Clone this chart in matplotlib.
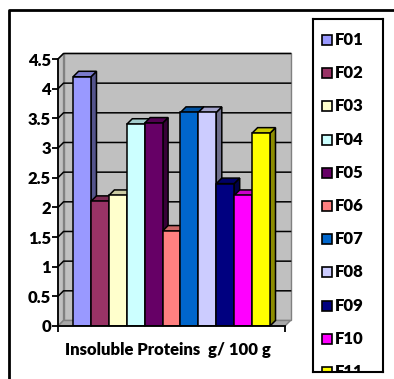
import matplotlib
matplotlib.use('Agg')
import matplotlib.pyplot as plt
from matplotlib.patches import Polygon, Rectangle
from matplotlib.lines import Line2D
import numpy as np

# data
names = ['F01', 'F02', 'F03', 'F04', 'F05', 'F06', 'F07', 'F08', 'F09', 'F10', 'F11']
values = [4.2, 2.1, 2.2, 3.4, 3.42, 1.6, 3.6, 3.6, 2.4, 2.2, 3.25]
colors = ['#9999FF', '#993366', '#FFFFCC', '#CCFFFF', '#660066', '#FF8080',
          '#0066CC', '#CCCCFF', '#000080', '#FF00FF', '#FFFF00']
yticks = [0, 0.5, 1, 1.5, 2, 2.5, 3, 3.5, 4, 4.5]
ytick_labels = ['0', '0.5', '1', '1.5', '2', '2.5', '3', '3.5', '4', '4.5']
xlabel = 'Insoluble Proteins  g/ 100 g'

plt.rcParams['font.family'] = ['Lato', 'DejaVu Sans']
plt.rcParams['font.weight'] = 'bold'

W, H = 394, 379
fig = plt.figure(figsize=(W / 100, H / 100), dpi=100)


def box(x0, y0, x1, y1):
    # pixel box (top-left origin) -> figure fraction rect
    return [x0 / W, 1 - y1 / H, (x1 - x0) / W, (y1 - y0) / H]


# outer frame (only top and left visible in the reference)
fig.add_artist(Line2D([9 / W, 9 / W, 1.0], [0.0, 1 - 10 / H, 1 - 10 / H],
                      transform=fig.transFigure, color='black', lw=2))

ax = fig.add_axes(box(58, 59, 285, 326))
xl, xr = -0.84, 11.84
ymax = 4.5
ax.set_xlim(xl, xr)
ax.set_ylim(0, ymax)
ax.patch.set_visible(False)
dx, dy = 0.31, 0.093  # depth offset

wall = '#C0C0C0'
ax.add_patch(Polygon([(xl + dx, dy), (xr + dx, dy), (xr + dx, ymax + dy), (xl + dx, ymax + dy)],
                     closed=True, fc=wall, ec='#808080', lw=1, clip_on=False, zorder=0))
ax.add_patch(Polygon([(xl, 0), (xl + dx, dy), (xl + dx, ymax + dy), (xl, ymax)],
                     closed=True, fc=wall, ec='#808080', lw=1, clip_on=False, zorder=0))
ax.add_patch(Polygon([(xl, 0), (xr, 0), (xr + dx, dy), (xl + dx, dy)],
                     closed=True, fc='#A8A8A8', ec='#808080', lw=1, clip_on=False, zorder=0))
for t in yticks[1:]:
    ax.plot([xl, xl + dx, xr + dx], [t, t + dy, t + dy], color='black', lw=1.1,
            clip_on=False, zorder=1)

x = np.arange(len(values))
bars = ax.bar(x, values, width=1, align='edge', color=colors, edgecolor='black', lw=1.1)
for i, (b, v, c) in enumerate(zip(bars, values, colors)):
    rgb = np.array(matplotlib.colors.to_rgb(c))
    z = 3 + i
    ax.add_patch(Polygon([(i + 1, 0), (i + 1 + dx, dy), (i + 1 + dx, v + dy), (i + 1, v)],
                         closed=True, fc=rgb * 0.55, ec='black', lw=1.1, clip_on=False, zorder=z))
    ax.add_patch(Polygon([(i, v), (i + 1, v), (i + 1 + dx, v + dy), (i + dx, v + dy)],
                         closed=True, fc=rgb * 0.8, ec='black', lw=1.1, clip_on=False, zorder=z))
    b.set_zorder(z + 0.5)

for s in ['top', 'right']:
    ax.spines[s].set_visible(False)
for s in ['left', 'bottom']:
    ax.spines[s].set_linewidth(1.3)
    ax.spines[s].set_zorder(20)
ax.set_yticks(yticks)
ax.set_yticklabels(ytick_labels)
ax.set_xticks([xl, xr])
ax.set_xticklabels(['', ''])
ax.tick_params(axis='both', direction='out', length=4, width=1.3, pad=1, labelsize=12)

fig.text(168 / W, 1 - 350 / H, xlabel, ha='center', va='center', fontsize=12, fontweight='heavy')
for t in ax.get_yticklabels():
    t.set_fontweight('heavy')

# legend box, bottom entry is cut off like in the reference
lg = fig.add_axes(box(313, 19, 383, 372))
lg.set_xlim(313, 383)
lg.set_ylim(372, 19)
lg.set_xticks([])
lg.set_yticks([])
for s in lg.spines.values():
    s.set_linewidth(1.5)
for k, (n, c) in enumerate(zip(names, colors)):
    yc = 40 + 33.2 * k
    lg.add_patch(Rectangle((322, yc - 5), 10, 10, fc=c, ec='black', lw=1.2, clip_on=True))
    lg.text(335, yc, n, ha='left', va='center', fontsize=12, fontweight='heavy', clip_on=True)

fig.savefig('out.png', dpi=100)
